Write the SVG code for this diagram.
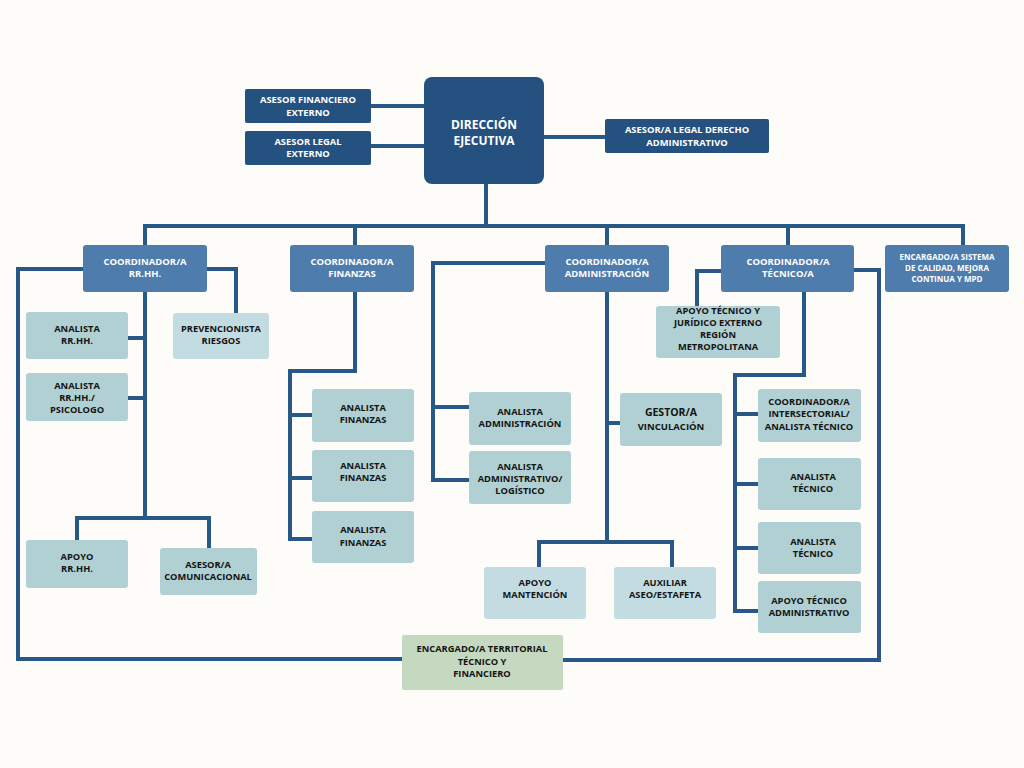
<svg xmlns="http://www.w3.org/2000/svg" width="1024" height="768" viewBox="0 0 1024 768">
<style>
text{font-family:"Open Sans","Liberation Sans",sans-serif;font-weight:700;text-anchor:middle;}
.dk{fill:#24517F;}
.md{fill:#4E7CAD;}
.lt{fill:#B0D0D3;}
.lr{fill:#C3DCE2;}
.gr{fill:#C5D9C0;}
.w{fill:#FFFFFF;font-size:9.4px;}
.w2{fill:#FFFFFF;font-size:9.5px;}
.w3{fill:#FFFFFF;font-size:8px;}
.b{fill:#141414;font-size:9.3px;}
.big{fill:#FFFFFF;font-size:12px;}
.c{fill:none;stroke:#285888;stroke-width:4;stroke-linecap:square;stroke-linejoin:miter;}
</style>
<rect width="1024" height="768" fill="#FDFCF9"/>
<g id="connectors" class="c">
<path d="M371,106 H424"/>
<path d="M371,146 H424"/>
<path d="M544,137 H605"/>
<path d="M486,184 V226"/>
<path d="M145,245 V226 H963 V245"/>
<path d="M355,226 V245"/>
<path d="M607,226 V245"/>
<path d="M788,226 V245"/>
<path d="M83,269 H18 V659 H402"/>
<path d="M854,270 H879 V660 H563"/>
<path d="M207,269 H236 V313"/>
<path d="M145,292 V518"/>
<path d="M128,338 H145"/>
<path d="M128,398 H145"/>
<path d="M77,540 V518 H209 V548"/>
<path d="M355,292 V371 H290 V539 H312"/>
<path d="M290,415 H312"/>
<path d="M290,478 H312"/>
<path d="M545,263 H433 V480 H469"/>
<path d="M433,407 H469"/>
<path d="M607,292 V542"/>
<path d="M607,423 H620"/>
<path d="M539,567 V542 H672 V567"/>
<path d="M721,271 H697 V306"/>
<path d="M804,292 V375 H735 V611 H758"/>
<path d="M735,414 H758"/>
<path d="M735,484 H758"/>
<path d="M735,548 H758"/>
</g>
<g id="direccion"><rect class="dk" x="424" y="77" width="120" height="107" rx="8"/><text class="big" x="484" y="129">DIRECCIÓN</text><text class="big" x="484" y="145">EJECUTIVA</text></g>
<g id="asesor-financiero"><rect class="dk" x="245" y="89" width="126" height="34" rx="2"/><text class="w" x="308" y="103">ASESOR FINANCIERO</text><text class="w" x="308" y="116">EXTERNO</text></g>
<g id="asesor-legal"><rect class="dk" x="245" y="131" width="126" height="34" rx="2"/><text class="w" x="308" y="145">ASESOR LEGAL</text><text class="w" x="308" y="157">EXTERNO</text></g>
<g id="asesor-legal-derecho"><rect class="dk" x="605" y="119" width="164" height="34" rx="2"/><text class="w" x="687" y="133">ASESOR/A LEGAL DERECHO</text><text class="w" x="687" y="146">ADMINISTRATIVO</text></g>
<g id="coord-rrhh"><rect class="md" x="83" y="245" width="124" height="47" rx="3"/><text class="w2" x="145" y="265">COORDINADOR/A</text><text class="w2" x="145" y="277">RR.HH.</text></g>
<g id="coord-finanzas"><rect class="md" x="290" y="245" width="124" height="47" rx="3"/><text class="w2" x="352" y="265">COORDINADOR/A</text><text class="w2" x="352" y="277">FINANZAS</text></g>
<g id="coord-administracion"><rect class="md" x="545" y="245" width="124" height="47" rx="3"/><text class="w2" x="607" y="265">COORDINADOR/A</text><text class="w2" x="607" y="277">ADMINISTRACIÓN</text></g>
<g id="coord-tecnico"><rect class="md" x="721" y="245" width="133" height="47" rx="3"/><text class="w2" x="788" y="265">COORDINADOR/A</text><text class="w2" x="788" y="277">TÉCNICO/A</text></g>
<g id="encargado-calidad"><rect class="md" x="885" y="245" width="124" height="47" rx="3"/><text class="w3" x="947" y="260">ENCARGADO/A SISTEMA</text><text class="w3" x="947" y="271">DE CALIDAD, MEJORA</text><text class="w3" x="947" y="282">CONTINUA Y MPD</text></g>
<g id="analista-rrhh"><rect class="lt" x="26" y="312" width="102" height="47" rx="3"/><text class="b" x="77" y="332">ANALISTA</text><text class="b" x="77" y="344">RR.HH.</text></g>
<g id="analista-psicologo"><rect class="lt" x="26" y="373" width="102" height="48" rx="3"/><text class="b" x="77" y="389">ANALISTA</text><text class="b" x="77" y="401">RR.HH./</text><text class="b" x="77" y="413">PSICOLOGO</text></g>
<g id="prevencionista"><rect class="lr" x="173" y="313" width="96" height="46" rx="3"/><text class="b" x="221" y="332">PREVENCIONISTA</text><text class="b" x="221" y="344">RIESGOS</text></g>
<g id="apoyo-rrhh"><rect class="lt" x="26" y="540" width="102" height="48" rx="3"/><text class="b" x="77" y="560">APOYO</text><text class="b" x="77" y="572">RR.HH.</text></g>
<g id="asesor-comunicacional"><rect class="lt" x="160" y="548" width="97" height="47" rx="3"/><text class="b" x="208" y="568">ASESOR/A</text><text class="b" x="208" y="580">COMUNICACIONAL</text></g>
<g id="analista-finanzas-1"><rect class="lt" x="312" y="389" width="102" height="53" rx="3"/><text class="b" x="363" y="411">ANALISTA</text><text class="b" x="363" y="423">FINANZAS</text></g>
<g id="analista-finanzas-2"><rect class="lt" x="312" y="450" width="102" height="52" rx="3"/><text class="b" x="363" y="469">ANALISTA</text><text class="b" x="363" y="481">FINANZAS</text></g>
<g id="analista-finanzas-3"><rect class="lt" x="312" y="511" width="102" height="52" rx="3"/><text class="b" x="363" y="533">ANALISTA</text><text class="b" x="363" y="546">FINANZAS</text></g>
<g id="analista-administracion"><rect class="lt" x="469" y="392" width="102" height="53" rx="3"/><text class="b" x="520" y="415">ANALISTA</text><text class="b" x="520" y="427">ADMINISTRACIÓN</text></g>
<g id="analista-logistico"><rect class="lt" x="469" y="451" width="102" height="53" rx="3"/><text class="b" x="520" y="470">ANALISTA</text><text class="b" x="520" y="482">ADMINISTRATIVO/</text><text class="b" x="520" y="494">LOGÍSTICO</text></g>
<g id="gestor-vinculacion"><rect class="lt" x="620" y="393" width="102" height="53" rx="3"/><text class="b" x="671" y="416" style="font-size:10.5px">GESTOR/A</text><text class="b" x="671" y="430" style="font-size:9.5px">VINCULACIÓN</text></g>
<g id="apoyo-mantencion"><rect class="lr" x="484" y="567" width="102" height="52" rx="3"/><text class="b" x="535" y="586">APOYO</text><text class="b" x="535" y="598">MANTENCIÓN</text></g>
<g id="auxiliar-aseo"><rect class="lr" x="614" y="567" width="102" height="52" rx="3"/><text class="b" x="665" y="586">AUXILIAR</text><text class="b" x="665" y="598">ASEO/ESTAFETA</text></g>
<g id="apoyo-tecnico-juridico"><rect class="lt" x="656" y="306" width="124" height="52" rx="3"/><text class="b" x="718" y="314">APOYO TÉCNICO Y</text><text class="b" x="718" y="326">JURÍDICO EXTERNO</text><text class="b" x="718" y="338">REGIÓN</text><text class="b" x="718" y="350">METROPOLITANA</text></g>
<g id="coord-intersectorial"><rect class="lt" x="758" y="389" width="103" height="53" rx="3"/><text class="b" x="809" y="405">COORDINADOR/A</text><text class="b" x="809" y="417">INTERSECTORIAL/</text><text class="b" x="809" y="430">ANALISTA TÉCNICO</text></g>
<g id="analista-tecnico-1"><rect class="lt" x="758" y="458" width="103" height="52" rx="3"/><text class="b" x="813" y="480">ANALISTA</text><text class="b" x="813" y="492">TÉCNICO</text></g>
<g id="analista-tecnico-2"><rect class="lt" x="758" y="522" width="103" height="52" rx="3"/><text class="b" x="813" y="545">ANALISTA</text><text class="b" x="813" y="557">TÉCNICO</text></g>
<g id="apoyo-tecnico-administrativo"><rect class="lt" x="758" y="581" width="103" height="52" rx="3"/><text class="b" x="809" y="604">APOYO TÉCNICO</text><text class="b" x="809" y="616">ADMINISTRATIVO</text></g>
<g id="encargado-territorial"><rect class="gr" x="402" y="635" width="161" height="55" rx="2"/><text class="b" x="482" y="652">ENCARGADO/A TERRITORIAL</text><text class="b" x="482" y="665">TÉCNICO Y</text><text class="b" x="482" y="677">FINANCIERO</text></g>
</svg>
